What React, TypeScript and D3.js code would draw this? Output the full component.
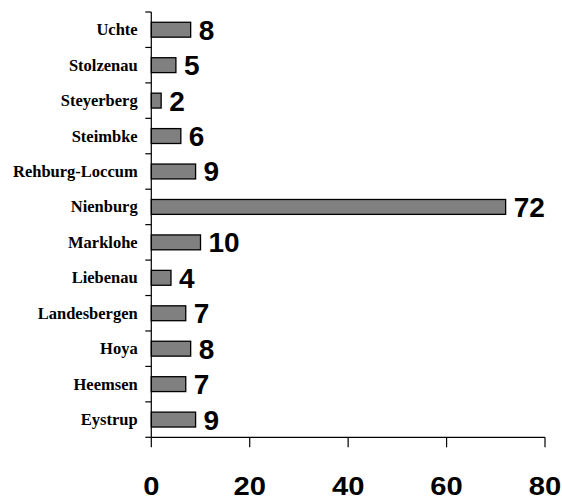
import React from "react";
import * as d3 from "d3";

const categories = ["Uchte", "Stolzenau", "Steyerberg", "Steimbke", "Rehburg-Loccum", "Nienburg", "Marklohe", "Liebenau", "Landesbergen", "Hoya", "Heemsen", "Eystrup"];
const values = [8, 5, 2, 6, 9, 72, 10, 4, 7, 8, 7, 9];
const xTicks = [0, 20, 40, 60, 80];

export default function App() {
  const W = 562, H = 500;
  const left = 151.3, right = 545, top = 12, bottom = 437.3;
  const x = d3.scaleLinear().domain([0, 80]).range([left, right]);
  const y = d3.scaleBand().domain(categories).range([top, bottom]).paddingInner(0.58).paddingOuter(0.29);
  const band = (bottom - top) / categories.length;
  const boundaries = d3.range(categories.length + 1).map(i => top + i * band);
  return (
    <div style={{ position: "absolute", left: 0, top: 0 }}>
      <svg width={W} height={H} style={{ display: "block" }}>
        <rect x={0} y={0} width={W} height={H} fill="#fff" />
        {categories.map((c, i) => {
          const yc = (y(c) as number) + y.bandwidth() / 2;
          return (
            <g key={c}>
              <rect x={x(0)} y={y(c)} width={x(values[i]) - x(0)} height={y.bandwidth()} fill="#808080" stroke="#000" strokeWidth={1.3} />
              <text x={x(values[i]) + 8} y={yc + 10} fontFamily="Liberation Sans, Arial, sans-serif" fontWeight="bold" fontSize={28} fill="#000">{values[i]}</text>
              <text x={137.7} y={yc + 5.5} textAnchor="end" fontFamily="Liberation Serif, Times New Roman, serif" fontWeight="bold" fontSize={16.5} fill="#000">{c}</text>
            </g>
          );
        })}
        <line x1={left} x2={left} y1={top} y2={bottom} stroke="#000" strokeWidth={1.2} />
        {boundaries.map((b, i) => (
          <line key={i} x1={left - 6} x2={left} y1={b} y2={b} stroke="#000" strokeWidth={1.2} />
        ))}
        <line x1={left} x2={right} y1={bottom} y2={bottom} stroke="#000" strokeWidth={1.2} />
        {xTicks.map(t => (
          <g key={t}>
            <line x1={x(t)} x2={x(t)} y1={bottom} y2={bottom + 10} stroke="#000" strokeWidth={1.2} />
            <text transform={`translate(${x(t)},495) scale(1.1,1)`} textAnchor="middle" fontFamily="Liberation Sans, Arial, sans-serif" fontWeight="bold" fontSize={26.5} fill="#000">{t}</text>
          </g>
        ))}
      </svg>
    </div>
  );
}
